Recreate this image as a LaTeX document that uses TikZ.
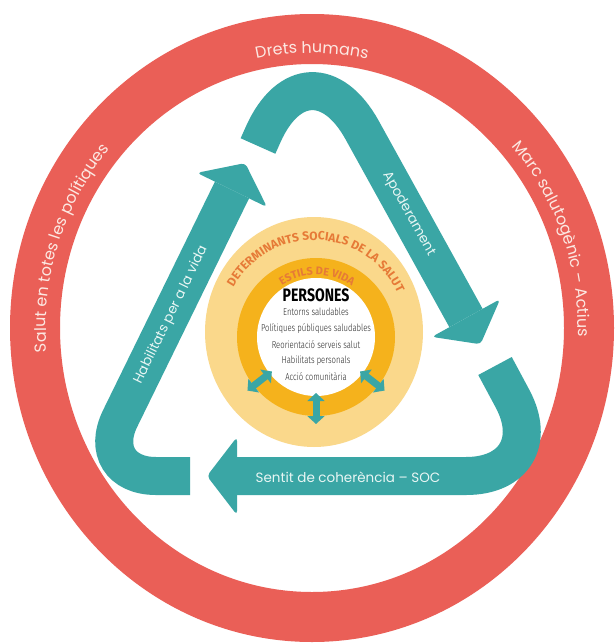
\documentclass[tikz,border=0pt]{standalone}
\usepackage{fontspec}
\setmainfont{Poppins}
\newfontfamily\condfont[FakeStretch=0.78]{Fira Sans}
\newfontfamily\lightfont[FakeStretch=0.77]{Fira Sans Light}
\newfontfamily\capfont{Fira Sans}
\usepackage{tikz}
\usetikzlibrary{calc,positioning,decorations.text,arrows.meta}
\definecolor{ringred}{RGB}{234,95,87}
\definecolor{tealband}{RGB}{58,166,165}
\definecolor{lightyel}{RGB}{250,216,139}
\definecolor{orangering}{RGB}{245,178,28}
\definecolor{dsorange}{RGB}{230,122,55}
\definecolor{ringtext}{RGB}{252,232,226}
\definecolor{tealtext}{RGB}{232,246,244}
\newcommand{\fs}[1]{\fontsize{#1}{#1}\selectfont}

\begin{document}
\begin{tikzpicture}[x=1pt,y=-1pt]
\tikzstyle{band}=[draw=tealband, line width=38pt]
\tikzstyle{head}=[fill=tealband, rounded corners=4pt]
\tikzstyle{bandtext}=[text=tealtext, font=\fs{13.5}, inner sep=0pt]
\tikzstyle{ringlabel}=[decorate, decoration={text along path, text align=center, text color=ringtext}]
\tikzstyle{curvecap}=[decorate, decoration={text along path, text align=center, text color=dsorange}]
\tikzstyle{conn}=[draw=tealband, line width=7pt, {Triangle[width=17pt,length=8pt]}-{Triangle[width=17pt,length=8pt]}]
\tikzstyle{listtext}=[font=\lightfont\fs{10}, text=black!85, inner sep=0pt]

	\useasboundingbox[fill=white] (0,0) rectangle (616,643);

	% red ring
	\coordinate (rc) at (312,328);
	\fill[ringred, even odd rule] (rc) ellipse [x radius=302, y radius=314]
		(rc) ellipse [x radius=252, y radius=264];

	\path[ringlabel, decoration={text={|\fs{16}|Drets humans}}]
		($(rc)+(230:266 and 275)$) arc[start angle=230, end angle=310, x radius=266, y radius=275];
	\path[ringlabel, decoration={text={|\fs{16}|Salut en totes les polítiques}}]
		($(rc)+(150:266 and 275)$) arc[start angle=150, end angle=246, x radius=266, y radius=275];
	\path[ringlabel, decoration={text={|\fs{16}|Marc salutogènic – Actius}}]
		($(rc)+(292:266 and 275)$) arc[start angle=292, end angle=388, x radius=266, y radius=275];

	% teal triangle
	\coordinate (apex) at (308.5,33);
	\coordinate (cbl) at (92,476);
	\coordinate (cbr) at (554,476);

	\coordinate (apo0) at (258,146);
	\coordinate (apo1) at (466,318);
	\draw[band, rounded corners=111pt] (apo0) -- (apex) -- (apo1);
	\fill[head] ($(apo1)!39pt!90:(apex)$) -- ($(apo1)!-30pt!(apex)$) -- ($(apo1)!39pt!-90:(apex)$) -- cycle;

	\coordinate (soc0) at (495,366);
	\coordinate (soc1) at (237,476);
	\draw[band, rounded corners=88pt] (soc0) -- (cbr) -- (soc1);
	\fill[head] ($(soc1)!39pt!90:(cbr)$) -- ($(soc1)!-30pt!(cbr)$) -- ($(soc1)!39pt!-90:(cbr)$) -- cycle;

	\coordinate (hab0) at (190,476);
	\coordinate (hab1) at (232,190);
	\draw[band, rounded corners=64pt] (hab0) -- (cbl) -- (hab1);
	\fill[head] ($(hab1)!39pt!90:(cbl)$) -- ($(hab1)!-30pt!(cbl)$) -- ($(hab1)!39pt!-90:(cbl)$) -- cycle;

	\node[bandtext, rotate=-61] (apotext) at (408.6,214) {Apoderament};
	\node[bandtext] (soctext) at (348,477) {Sentit de coherència – SOC};
	\node[bandtext, rotate=64] (habtext) at (171,315) {Habilitats per a la vida};

	% circles
	\coordinate (yc) at (314,332);
	\coordinate (oc) at (316,337);
	\fill[lightyel] (yc) ellipse [x radius=109, y radius=115];
	\fill[orangering] (oc) circle [radius=79];
	\fill[white] (oc) circle [radius=59];

	\path[curvecap, decoration={text={|\capfont\bfseries\fs{12}|DETERMINANTS SOCIALS DE LA SALUT}}]
		($(yc)+(190:92)$) arc[start angle=190, end angle=354, radius=92];
	\path[curvecap, decoration={text={|\capfont\bfseries\fs{11}|ESTILS DE VIDA}}]
		($(oc)+(210:62)$) arc[start angle=210, end angle=332, radius=62];

	\node[font=\condfont\bfseries\fs{18}, inner sep=0pt] (persones) at (316,295) {PERSONES};
	\node[listtext] (l1) at (316,312) {Entorns saludables};
	\node[listtext] (l2) at (316,329) {Polítiques públiques saludables};
	\node[listtext] (l3) at (316,345) {Reorientació serveis salut};
	\node[listtext] (l4) at (316,361) {Habilitats personals};
	\node[listtext] (l5) at (316,377) {Acció comunitària};

	% small connectors
	\coordinate (ci1) at ($(oc)+(38:56)$);
	\coordinate (co1) at ($(oc)+(38:87)$);
	\coordinate (ci2) at ($(oc)+(90:56)$);
	\coordinate (co2) at ($(oc)+(90:87)$);
	\coordinate (ci3) at ($(oc)+(142:56)$);
	\coordinate (co3) at ($(oc)+(142:87)$);
	\path[conn] (ci1) -- (co1);
	\path[conn] (ci2) -- (co2);
	\path[conn] (ci3) -- (co3);

\end{tikzpicture}
\end{document}
